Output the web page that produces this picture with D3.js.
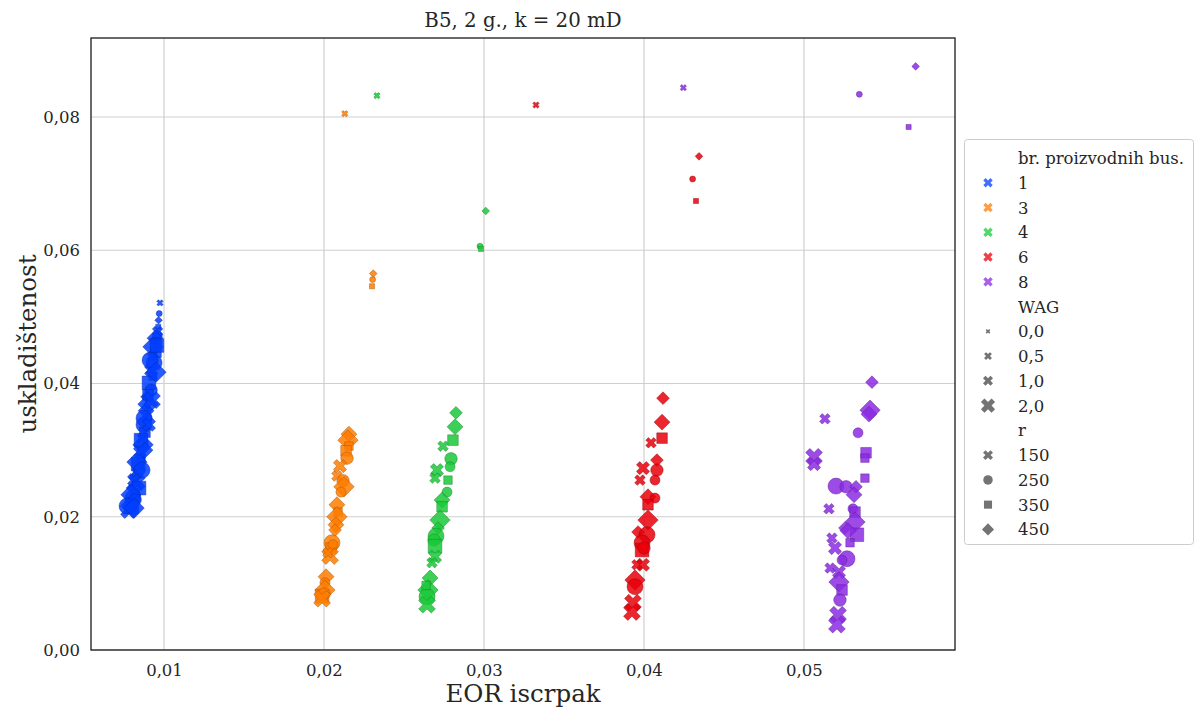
<!DOCTYPE html>
<html><head><meta charset="utf-8">
<script src="https://cdn.jsdelivr.net/npm/d3@7"></script>
<style>
body{margin:0;background:#fff;}
text{font-family:"DejaVu Serif",serif;fill:#262626;}
</style></head>
<body><svg id="c" width="1196" height="711"></svg>
<script>
// ---- data ----
const title = "B5, 2 g., k = 20 mD";
const xLabel = "EOR iscrpak";
const yLabel = "uskladištenost";
const wells = [1, 3, 4, 6, 8];
const wellColors = ["#023eff", "#ff7c00", "#1ac938", "#e8000b", "#8b2be2"];
const wagLevels = [0, 0.5, 1, 2];
const wagLabels = ["0,0", "0,5", "1,0", "2,0"];
const rLevels = [150, 250, 350, 450];
const xTicks = [0.01, 0.02, 0.03, 0.04, 0.05];
const xTickLabels = ["0,01", "0,02", "0,03", "0,04", "0,05"];
const yTicks = [0, 0.02, 0.04, 0.06, 0.08];
const yTickLabels = ["0,00", "0,02", "0,04", "0,06", "0,08"];

// [EOR iscrpak, uskladištenost, WAG, r]
const pts1 = [
 [0.00975,0.0521,0,150],[0.00970,0.0505,0,250],[0.00966,0.0495,0,450],[0.00964,0.0485,0,350],
 [0.00960,0.0478,0.5,150],[0.00958,0.0472,0.5,250],
 [0.00944,0.0468,1,450],[0.00956,0.0462,0.5,250],[0.00931,0.0455,2,450],[0.00950,0.0447,1,350],
 [0.00925,0.0440,0.5,150],[0.00938,0.0431,2,250],[0.00919,0.0420,1,150],[0.00931,0.0411,0.5,350],
 [0.00906,0.0401,2,350],[0.00919,0.0390,1,250],[0.00894,0.0380,0.5,450],[0.00900,0.0369,2,450],
 [0.00888,0.0359,1,450],[0.00894,0.0348,0.5,250],[0.00875,0.0338,2,250],[0.00881,0.0327,1,350],
 [0.00863,0.0318,0.5,150],[0.00869,0.0308,2,450],[0.00850,0.0297,1,150],[0.00856,0.0288,0.5,350],
 [0.00838,0.0279,2,350],[0.00844,0.0270,1,250],[0.00825,0.0261,0.5,450],[0.00831,0.0252,2,150],
 [0.00813,0.0243,1,450],[0.00819,0.0236,0.5,250],[0.00806,0.0228,2,250],[0.00794,0.0221,1,350],
 [0.00800,0.0215,2,350],[0.00794,0.0218,1,150],[0.00781,0.0210,2,150],
 [0.00956,0.0457,2,350],[0.00913,0.0435,2,250],[0.00950,0.0417,2,450],[0.00900,0.0383,1,350],
 [0.00925,0.0375,2,150],[0.00875,0.0348,2,250],[0.00906,0.0338,1,150],[0.00856,0.0315,2,350],
 [0.00881,0.0300,1,450],[0.00831,0.0282,2,450],[0.00863,0.0270,2,250],[0.00813,0.0255,1,150],
 [0.00844,0.0243,2,350],[0.00794,0.0233,2,450],[0.00819,0.0225,1,250],[0.00769,0.0216,2,250],
 [0.00813,0.0213,2,450]
];
const pts3 = [
 [0.0213,0.0805,0,150],[0.02308,0.0565,0,450],[0.02304,0.0556,0,250],[0.0230,0.0546,0,350],
 [0.02156,0.0324,1,450],[0.0215,0.0315,2,450],[0.02156,0.0306,0.5,350],[0.02138,0.0299,1,350],
 [0.02144,0.0288,1,250],[0.0210,0.0276,1,150],[0.02081,0.0261,0.5,150],[0.02119,0.0254,1,250],
 [0.02125,0.0245,2,450],[0.02106,0.0237,0.5,250],[0.02081,0.0218,1,450],[0.02088,0.0207,0.5,350],
 [0.02081,0.0200,2,450],[0.02075,0.0188,1,450],[0.02069,0.0180,0.5,450],[0.0205,0.0161,2,250],
 [0.02044,0.0153,1,350],[0.02056,0.0158,0.5,250],[0.02038,0.0141,2,150],[0.02025,0.0146,0.5,150],
 [0.02013,0.0110,1,450],[0.02006,0.0101,0.5,250],[0.02006,0.0090,2,450],[0.01988,0.0081,2,350],
 [0.0200,0.0084,1,250],[0.01988,0.0077,2,150]
];
const pts4 = [
 [0.02331,0.0832,0,150],[0.03011,0.0659,0,450],[0.02975,0.0606,0,250],[0.02981,0.0602,0,350],
 [0.02825,0.0356,0.5,450],[0.02819,0.0335,1,450],[0.02806,0.0315,1,350],[0.02744,0.0306,0.5,150],
 [0.02794,0.0287,1,250],[0.02788,0.0275,0.5,250],[0.02706,0.0270,1,150],[0.02694,0.0258,0.5,150],
 [0.02775,0.0255,0.5,350],[0.02769,0.0237,0.5,250],[0.02738,0.0225,1,450],[0.02738,0.0215,1,350],
 [0.02725,0.0195,2,450],[0.02713,0.0183,0.5,450],[0.0270,0.0171,2,250],[0.02688,0.0165,1,250],
 [0.02694,0.0156,2,350],[0.02694,0.0140,1,150],[0.02675,0.0131,0.5,150],[0.02663,0.0108,1,450],
 [0.0265,0.0090,2,450],[0.02644,0.0080,2,250],[0.02644,0.0068,2,150],[0.02638,0.0097,0.5,350]
];
const pts6 = [
 [0.03325,0.0818,0,150],[0.04344,0.0741,0,450],[0.04304,0.0707,0,250],[0.04325,0.0674,0,350],
 [0.04119,0.0378,0.5,450],[0.04113,0.0342,1,450],[0.04113,0.0318,1,350],[0.04044,0.0311,0.5,150],
 [0.04081,0.0285,0.5,450],[0.04081,0.0270,1,250],[0.04069,0.0255,0.5,250],[0.03994,0.0273,1,150],
 [0.03975,0.0255,0.5,150],[0.04025,0.0230,1,450],[0.04069,0.0228,0.5,250],[0.04025,0.0218,1,350],
 [0.04025,0.0195,2,450],[0.03963,0.0177,0.5,450],[0.04019,0.0173,2,250],[0.03988,0.0161,2,250],
 [0.03988,0.0150,2,350],[0.0400,0.0153,1,250],[0.03994,0.0128,1,150],[0.03956,0.0128,0.5,150],
 [0.03944,0.0105,2,450],[0.03944,0.0095,2,250],[0.03931,0.0071,2,150],[0.03925,0.0057,2,150]
];
const pts8 = [
 [0.04246,0.0844,0,150],[0.05698,0.0876,0,450],[0.05346,0.0834,0,250],[0.05654,0.0785,0,350],
 [0.05425,0.0402,0.5,450],[0.05413,0.0360,2,450],[0.05406,0.0354,1,450],[0.05131,0.0347,0.5,150],
 [0.05338,0.0326,0.5,250],[0.05388,0.0296,1,350],[0.05381,0.0288,0.5,350],[0.05063,0.0290,2,150],
 [0.05063,0.0279,1,150],[0.05381,0.0258,0.5,350],[0.05200,0.0246,2,250],[0.05263,0.0245,1,250],
 [0.05325,0.0245,0.5,450],[0.05313,0.0233,1,450],[0.05156,0.0212,0.5,150],[0.05306,0.0212,0.5,250],
 [0.05319,0.0207,1,350],[0.05319,0.0192,2,450],[0.05256,0.0183,0.5,450],[0.05331,0.0173,2,350],
 [0.05275,0.0179,1,450],[0.05288,0.0161,0.5,350],[0.05175,0.0168,0.5,150],[0.05194,0.0153,1,150],
 [0.05269,0.0137,2,250],[0.05238,0.0135,0.5,250],[0.05163,0.0123,0.5,150],[0.05219,0.0117,1,150],
 [0.05219,0.0102,2,450],[0.05238,0.0090,1,350],[0.05225,0.0075,1,250],[0.05213,0.0053,2,150],
 [0.05206,0.0038,2,150]
];
const seriesPts = [pts1, pts3, pts4, pts6, pts8];

// ---- layout ----
const svg = d3.select("#c");
const M = {l: 91, t: 38, r: 955, b: 650};
const x = d3.scaleLinear().domain([0.005437, 0.05944]).range([M.l, M.r]);
const y = d3.scaleLinear().domain([0, 0.09186]).range([M.b, M.t]);
const color = d3.scaleOrdinal().domain(wells).range(wellColors);
const dim = d3.scaleOrdinal().domain(wagLevels).range([6, 10, 12.5, 16]);
const shape = d3.scaleOrdinal().domain(rLevels).range(["x", "o", "s", "D"]);

function sym(kind, D) {
  if (kind === "o") return {d: d3.symbol(d3.symbolCircle, Math.PI * D * D / 4)(), rot: 0};
  if (kind === "s") return {d: d3.symbol(d3.symbolSquare, (0.85 * D) ** 2)(), rot: 0};
  if (kind === "D") return {d: d3.symbol(d3.symbolSquare, (0.9 * D) ** 2)(), rot: 45};
  const rr = 1.05 * D / 5.66;
  return {d: d3.symbol(d3.symbolCross, 20 * rr * rr)(), rot: 45};
}

svg.append("rect").attr("width", 1196).attr("height", 711).attr("fill", "#fff");

// grid
const g = svg.append("g");
g.selectAll(".vx").data(xTicks).join("line")
  .attr("x1", d => x(d)).attr("x2", d => x(d)).attr("y1", M.t).attr("y2", M.b)
  .attr("stroke", "#cfcfcf").attr("stroke-width", 1.2);
g.selectAll(".hy").data(yTicks).join("line")
  .attr("y1", d => y(d)).attr("y2", d => y(d)).attr("x1", M.l).attr("x2", M.r)
  .attr("stroke", "#cfcfcf").attr("stroke-width", 1.2);

// axes via d3
const xAxis = d3.axisBottom(x).tickValues(xTicks).tickFormat((d, i) => xTickLabels[i]).tickSize(0).tickPadding(14);
const yAxis = d3.axisLeft(y).tickValues(yTicks).tickFormat((d, i) => yTickLabels[i]).tickSize(0).tickPadding(11);
const gx = svg.append("g").attr("transform", `translate(0,${M.b})`).call(xAxis);
const gy = svg.append("g").attr("transform", `translate(${M.l},0)`).call(yAxis);
[gx, gy].forEach(a => {
  a.select(".domain").remove();
  a.selectAll("text").attr("font-family", "DejaVu Serif").attr("font-size", 16.5).attr("fill", "#262626");
});

// points
const pg = svg.append("g");
seriesPts.forEach((pts, i) => {
  const c = color(wells[i]);
  const stroke = d3.color(c).darker(1.3).formatHex();
  pts.forEach(p => {
    const s = sym(shape(p[3]), dim(p[2]));
    pg.append("path").attr("d", s.d)
      .attr("transform", `translate(${x(p[0])},${y(p[1])}) rotate(${s.rot})`)
      .attr("fill", c).attr("fill-opacity", 0.85)
      .attr("stroke", stroke).attr("stroke-opacity", 0.6).attr("stroke-width", 0.7);
  });
});

// frame
svg.append("rect").attr("x", M.l).attr("y", M.t).attr("width", M.r - M.l).attr("height", M.b - M.t)
  .attr("fill", "none").attr("stroke", "#1a1a1a").attr("stroke-width", 1.3);

// titles
svg.append("text").attr("x", (M.l + M.r) / 2).attr("y", 27).attr("text-anchor", "middle")
  .attr("font-size", 19.8).text(title);
svg.append("text").attr("x", (M.l + M.r) / 2).attr("y", 702).attr("text-anchor", "middle")
  .attr("font-size", 24.5).text(xLabel);
svg.append("text").attr("transform", `translate(36,${(M.t + M.b) / 2}) rotate(-90)`).attr("text-anchor", "middle")
  .attr("font-size", 24.5).text(yLabel);

// legend
const lg = svg.append("g");
lg.append("rect").attr("x", 964.5).attr("y", 139.5).attr("width", 229).attr("height", 405).attr("rx", 3)
  .attr("fill", "#fff").attr("stroke", "#cccccc").attr("stroke-width", 1);
const rows = [];
rows.push({label: "br. proizvodnih bus.", head: true});
wells.forEach(w => rows.push({label: String(w), fill: color(w), kind: "x", D: 9}));
rows.push({label: "WAG", head: true});
const legDim = [4.5, 7.5, 9.5, 13.5];
wagLevels.forEach((w, i) => rows.push({label: wagLabels[i], fill: "#444", kind: "x", D: legDim[i]}));
rows.push({label: "r", head: true});
rLevels.forEach(r => rows.push({label: String(r), fill: "#444", kind: shape(r), D: 9.5}));
rows.forEach((row, i) => {
  const cy = 158 + i * 24.76;
  lg.append("text").attr("x", 1018).attr("y", cy + 6).attr("font-size", 16.5).text(row.label);
  if (!row.head) {
    const s = sym(row.kind, row.D);
    lg.append("path").attr("d", s.d).attr("transform", `translate(988,${cy}) rotate(${s.rot})`)
      .attr("fill", row.fill).attr("fill-opacity", 0.75);
  }
});
</script></body></html>
